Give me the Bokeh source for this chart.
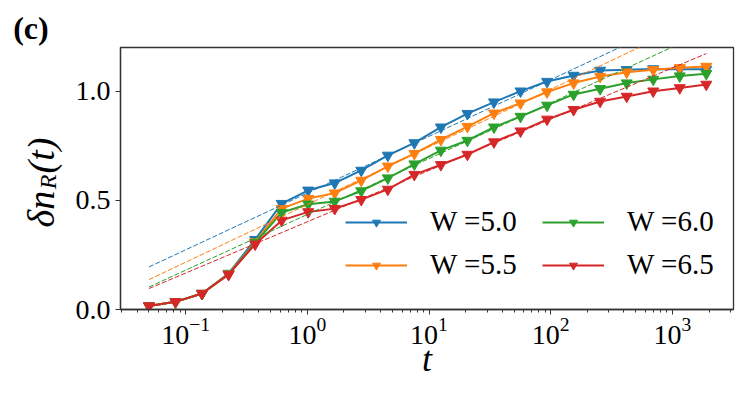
import math
from bokeh.plotting import figure
from bokeh.layouts import row
from bokeh.models import Range1d, FixedTicker, Legend, LegendItem, PrintfTickFormatter
from bokeh.core.properties import value
from bokeh.embed import file_html
from bokeh.resources import INLINE

# ---- data ----
t = [0.05, 0.0826, 0.1365, 0.2255, 0.3726, 0.6156, 1.017, 1.68, 2.776, 4.587,
     7.58, 12.52, 20.69, 34.19, 56.49, 93.33, 154.2, 254.8, 421.0, 695.6, 1149.0, 1899.0]

w50 = [0.016, 0.035, 0.073, 0.165, 0.320, 0.485, 0.546, 0.579, 0.637, 0.706, 0.763,
       0.835, 0.897, 0.950, 1.000, 1.044, 1.072, 1.095, 1.098, 1.102, 1.100, 1.100]
w55 = [0.016, 0.035, 0.073, 0.163, 0.309, 0.462, 0.508, 0.533, 0.591, 0.656, 0.714,
       0.778, 0.838, 0.899, 0.945, 0.996, 1.037, 1.067, 1.087, 1.098, 1.107, 1.113]
w60 = [0.016, 0.035, 0.073, 0.162, 0.305, 0.444, 0.482, 0.495, 0.543, 0.602, 0.666,
       0.729, 0.774, 0.835, 0.884, 0.935, 0.985, 1.011, 1.037, 1.054, 1.069, 1.080]
w65 = [0.016, 0.035, 0.073, 0.160, 0.299, 0.408, 0.447, 0.462, 0.503, 0.550, 0.618,
       0.663, 0.710, 0.767, 0.817, 0.871, 0.915, 0.953, 0.976, 1.000, 1.015, 1.031]

# logarithmic fits (straight lines in log t), given by their end values
fit_t = [0.05, 1899.0]
fit50 = [0.195, 1.385]
fit55 = [0.137, 1.346]
fit60 = [0.103, 1.273]
fit65 = [0.096, 1.172]

labels = ["W =5.0", "W =5.5", "W =6.0", "W =6.5"]
colors = ["#1f77b4", "#ff7f0e", "#2ca02c", "#d62728"]
series = [w50, w55, w60, w65]
fits = [fit50, fit55, fit60, fit65]

y_ticks = [0.0, 0.5, 1.0]
x_ticks = [0.1, 1.0, 10.0, 100.0, 1000.0]
x_minor = [m * 10.0 ** k for k in range(-2, 4) for m in range(2, 10)]

SERIF = "Liberation Serif"
H = 395
LW = 64  # width of the strip that carries the panel letter and y label

# ---------------- main plot ----------------
p = figure(width=748 - LW, height=H, x_axis_type="log",
           x_range=Range1d(10 ** -1.535, 10 ** 3.502), y_range=Range1d(0, 1.2),
           output_backend="svg", toolbar_location=None,
           min_border_left=120 - LW, min_border_right=15, min_border_top=47, min_border_bottom=86)

p.xgrid.visible = False
p.ygrid.visible = False
p.outline_line_color = "#333333"
p.outline_line_width = 1.3
p.background_fill_color = "white"
p.border_fill_color = "white"

for ax in (p.xaxis[0], p.yaxis[0]):
    ax.axis_line_color = "#333333"
    ax.axis_line_width = 1.3
    ax.major_tick_line_color = "#333333"
    ax.minor_tick_line_color = "#333333"
    ax.major_tick_in = 0
    ax.minor_tick_in = 0
    ax.major_tick_out = 5
    ax.minor_tick_out = 3
    ax.major_label_text_font = SERIF
    ax.major_label_text_font_size = "28px"
    ax.major_label_text_color = "black"

p.xaxis.ticker = FixedTicker(ticks=x_ticks, minor_ticks=x_minor)
p.xaxis.major_label_standoff = 3
p.xaxis.axis_label = "t"
p.xaxis.axis_label_text_font = SERIF
p.xaxis.axis_label_text_font_style = "italic"
p.xaxis.axis_label_text_font_size = "36px"
p.xaxis.axis_label_text_color = "black"
p.xaxis.axis_label_standoff = -8

p.yaxis.ticker = FixedTicker(ticks=y_ticks)
p.yaxis.formatter = PrintfTickFormatter(format="%.1f")
p.yaxis.major_label_standoff = 5
p.yaxis.minor_tick_out = 0

renderers = []
for ys, c in zip(series, colors):
    lr = p.line(t, ys, line_color=c, line_width=2)
    sr = p.scatter(t, ys, marker="inverted_triangle", size=11, fill_color=c, line_color=c)
    renderers.append((lr, sr))

for f, c in zip(fits, colors):
    p.line(fit_t, f, line_color=c, line_width=1, line_dash="5 2")

leg1 = Legend(items=[LegendItem(label=labels[i], renderers=list(renderers[i])) for i in (0, 1)])
leg2 = Legend(items=[LegendItem(label=labels[i], renderers=list(renderers[i])) for i in (2, 3)])
for lg, xloc in ((leg1, 225), (leg2, 422)):
    lg.location = (xloc, 28)
    lg.orientation = "vertical"
    lg.glyph_width = 62
    lg.glyph_height = 20
    lg.label_standoff = 23
    lg.spacing = 10
    lg.padding = 0
    lg.margin = 0
    lg.border_line_alpha = 0
    lg.background_fill_alpha = 0
    lg.label_text_font = SERIF
    lg.label_text_font_size = "29px"
    lg.label_text_color = "black"
    p.add_layout(lg)

# ---------------- left strip: panel letter and y label ----------------
q = figure(width=LW, height=H, x_range=Range1d(0, LW), y_range=Range1d(0, H),
           output_backend="svg", toolbar_location=None,
           x_axis_location=None, y_axis_location=None,
           min_border=0, min_border_left=0, min_border_right=0,
           min_border_top=0, min_border_bottom=0)
q.xgrid.visible = False
q.ygrid.visible = False
q.outline_line_color = None
q.background_fill_color = "white"
q.border_fill_color = "white"
for fig in (p, q):
    if "frame_align" in fig.properties():
        fig.frame_align = False

q.text(x=[12.7], y=[368], text=["(c)"], text_font=value(SERIF), text_font_style="bold",
       text_font_size="32px", text_color="black", text_align="left", text_baseline="alphabetic")

rot = math.pi / 2
q.text(x=[40.2], y=[186.4], text=["δn"], angle=rot, text_font=value(SERIF), text_font_style="italic",
       text_font_size="38px", text_color="black", text_align="center", text_baseline="middle")
q.text(x=[47.9], y=[213.7], text=["R"], angle=rot, text_font=value(SERIF), text_font_style="italic",
       text_font_size="24px", text_color="black", text_align="center", text_baseline="middle")
q.text(x=[40.2], y=[240.0], text=["(t)"], angle=rot, text_font=value(SERIF), text_font_style="italic",
       text_font_size="38px", text_color="black", text_align="center", text_baseline="middle")

layout = row(q, p)
open("out.html", "w").write(file_html(layout, INLINE))
